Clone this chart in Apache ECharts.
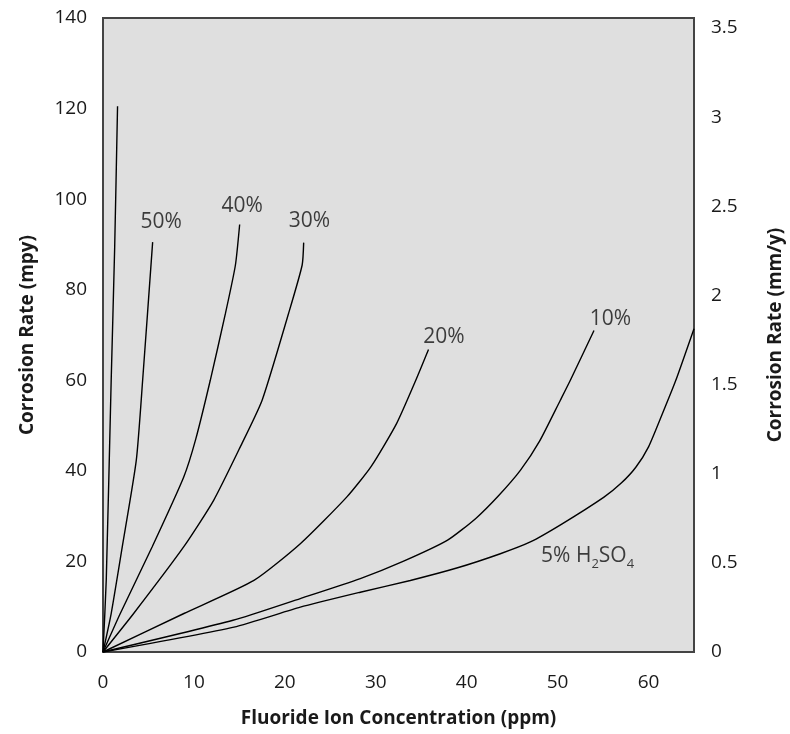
<!DOCTYPE html>
<html>
<head>
<meta charset="utf-8">
<script src="https://cdn.jsdelivr.net/npm/echarts@6/dist/echarts.min.js"></script>
<style>
html,body{margin:0;padding:0;background:#fff;}
#chart{width:790px;height:734px;}
</style>
</head>
<body>
<div id="chart"></div>
<script>
// Fluoride ion concentration (ppm) vs corrosion rate (mpy)
var xTicks = [0, 10, 20, 30, 40, 50, 60];
var yTicksLeft = [0, 20, 40, 60, 80, 100, 120, 140];
var yTicksRight = [0, 0.5, 1, 1.5, 2, 2.5, 3, 3.5];

var curveSteep = [[0,0],[0.36,16],[0.9,60],[1.28,89],[1.6,120.5]];
var curve50 = [[0,0],[0.9,8.5],[2.1,23],[3.66,42.3],[4.36,60],[5.46,90.5]];
var curve40 = [[0,0],[1.9,8.5],[5.4,23.2],[8.87,38.6],[10.2,47],[11.8,60],[13.46,74.7],[14.56,85.4],[15.03,94.4]];
var curve30 = [[0,0],[3.37,8.5],[8.87,23.2],[12.17,33.5],[15.1,45.3],[17.5,55.6],[20.4,74.7],[21.9,85.4],[22.07,90.4]];
var curve20 = [[0,0],[8.9,8.5],[16.6,15.8],[21.7,23.9],[26.8,34.2],[29.5,41],[32.3,50.5],[34.4,60],[35.8,66.8]];
var curve10 = [[0,0],[14.3,7],[21.7,11.8],[28.3,16.2],[33,20],[37.9,24.7],[41,29.5],[43.5,34.5],[45.9,40.1],[48,46.5],[50.3,55.6],[51.4,60],[54,71]];
var curve5 = [[0,0],[14.4,5.5],[21.7,9.9],[28.3,13.2],[33.8,15.8],[39,18.6],[43.7,21.7],[47,24.3],[50.5,28.3],[55.1,34.2],[57,37.3],[58.6,40.8],[60,45.3],[61.5,52.5],[63,60],[65,71.4]];

var labelNames = ['50%', '40%', '30%', '20%', '10%', '5% H{sub|2}SO{sub|4}'];
var labelPos = [[6.4,95],[15.3,98.4],[22.7,95.1],[37.5,69.5],[55.8,73.5],[53.3,21.1]];

var MPY_TO_MMY = 0.0254;
var FONT = '"Open Sans", "Noto Sans", sans-serif';

var chart = echarts.init(document.getElementById('chart'), null, {renderer: 'canvas'});

function lineSeries(data) {
  return {
    type: 'line',
    data: data,
    showSymbol: false,
    symbol: 'none',
    smooth: 0.2,
    lineStyle: {color: '#000', width: 1.4},
    silent: true,
    z: 3
  };
}

var labelData = labelNames.map(function (n, i) {
  return {name: n, value: labelPos[i]};
});

chart.setOption({
  animation: false,
  backgroundColor: '#ffffff',
  grid: {
    left: 103, right: 96, top: 18, bottom: 82,
    outerBoundsMode: 'none',
    containLabel: false,
    show: true,
    backgroundColor: '#dfdfdf',
    borderColor: '#444',
    borderWidth: 2
  },
  xAxis: {
    type: 'value',
    min: 0, max: 65, interval: 10,
    name: 'Fluoride Ion Concentration (ppm)',
    nameLocation: 'middle',
    nameGap: 57,
    nameTextStyle: {fontFamily: FONT, fontSize: 19, fontWeight: 'bold', color: '#1a1a1a'},
    axisLine: {show: false},
    axisTick: {show: false},
    splitLine: {show: false},
    axisLabel: {
      fontFamily: FONT, fontSize: 19, color: '#1a1a1a', margin: 21,
      showMaxLabel: false,
      formatter: function (v) { return xTicks.indexOf(v) >= 0 ? String(v) : ''; }
    }
  },
  yAxis: [{
    type: 'value',
    position: 'left',
    min: 0, max: 140, interval: 20,
    name: 'Corrosion Rate (mpy)',
    nameLocation: 'middle',
    nameRotate: 90,
    nameGap: 66,
    nameTextStyle: {fontFamily: FONT, fontSize: 19, fontWeight: 'bold', color: '#1a1a1a'},
    axisLine: {show: false},
    axisTick: {show: false},
    splitLine: {show: false},
    axisLabel: {
      fontFamily: FONT, fontSize: 19, color: '#1a1a1a', margin: 16,
      formatter: function (v) { return yTicksLeft.indexOf(v) >= 0 ? String(v) : ''; }
    }
  }, {
    type: 'value',
    position: 'right',
    min: 0, max: 140 * MPY_TO_MMY, interval: 0.5,
    name: 'Corrosion Rate (mm/y)',
    nameLocation: 'middle',
    nameRotate: 90,
    nameGap: 72,
    nameTextStyle: {fontFamily: FONT, fontSize: 19, fontWeight: 'bold', color: '#1a1a1a'},
    axisLine: {show: false},
    axisTick: {show: false},
    splitLine: {show: false},
    axisLabel: {
      fontFamily: FONT, fontSize: 19, color: '#1a1a1a', margin: 17,
      showMaxLabel: false,
      formatter: function (v) {
        for (var i = 0; i < yTicksRight.length; i++) {
          if (Math.abs(yTicksRight[i] - v) < 1e-6) return String(yTicksRight[i]);
        }
        return '';
      }
    }
  }],
  series: [
    lineSeries(curveSteep),
    lineSeries(curve50),
    lineSeries(curve40),
    lineSeries(curve30),
    lineSeries(curve20),
    lineSeries(curve10),
    lineSeries(curve5),
    {
      type: 'scatter',
      data: labelData,
      symbolSize: 1,
      itemStyle: {color: 'rgba(0,0,0,0)'},
      silent: true,
      z: 5,
      label: {
        show: true,
        position: 'inside',
        formatter: function (p) { return p.name; },
        fontFamily: FONT,
        fontSize: 21,
        color: '#111',
        rich: {
          sub: {fontFamily: FONT, fontSize: 13, color: '#111', verticalAlign: 'bottom', lineHeight: 12, padding: [0, 0, -4, 0]}
        }
      }
    }
  ]
});
</script>
</body>
</html>
